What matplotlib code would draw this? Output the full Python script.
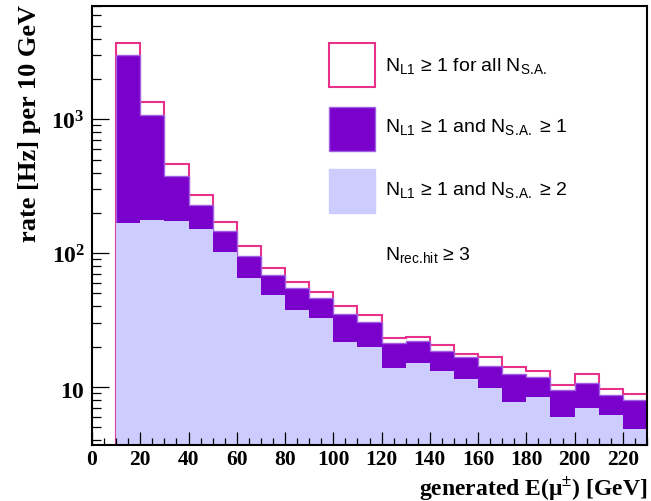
import numpy as np
import matplotlib
matplotlib.use("Agg")
import matplotlib.pyplot as plt
from matplotlib.patches import Rectangle
from matplotlib.ticker import MultipleLocator, LogLocator, FixedLocator, FixedFormatter, NullFormatter

## ## data (rate in Hz per 10 GeV bin)
bin_edges = np.arange(10, 240, 10)
rate_l1_all = [3710, 1333, 461, 272, 170, 113, 78, 61, 51, 40, 34.3,
               23.1, 23.7, 20.6, 17.6, 16.9, 14.2, 13.2, 10.4, 12.5, 9.7, 8.9]
rate_sa1 = [3040, 1077, 378, 228, 147, 95.5, 68.5, 55, 46, 35.2, 30.4,
            21.3, 22.2, 18.7, 16.7, 14.3, 12.5, 11.9, 9.6, 10.7, 8.7, 8.0]
rate_sa2 = [167, 178, 175, 151, 102, 64.7, 48.7, 37.6, 32.6, 21.9, 20.1,
            14.0, 15.2, 13.1, 11.5, 9.8, 7.7, 8.4, 6.0, 7.0, 6.2, 4.9]

legend_labels = [r"N$_{\mathrm{L1}}$ ≥ 1 for all N$_{\mathrm{S.\!A.}}$",
                 r"N$_{\mathrm{L1}}$ ≥ 1 and N$_{\mathrm{S.\!A.}}$ ≥ 1",
                 r"N$_{\mathrm{L1}}$ ≥ 1 and N$_{\mathrm{S.\!A.}}$ ≥ 2"]
cut_label = r"N$_{\mathrm{rec.\!hit}}$ ≥ 3"

## ## colours
pink = "#e8318a"
purple = "#7a00cc"
lavender = "#ccccff"

plt.rcParams["mathtext.fontset"] = "custom"
plt.rcParams["mathtext.rm"] = "Liberation Sans"
plt.rcParams["mathtext.it"] = "Liberation Sans:italic"
plt.rcParams["mathtext.bf"] = "Liberation Serif:bold"

fig = plt.figure(figsize=(6.51, 5.02), dpi=100)
ax = fig.add_axes([0.1413, 0.1116, 0.8526, 0.8745])

## ## histograms, outline first so the filled ones cover its lower part
ax.stairs(rate_l1_all, bin_edges, baseline=1, color=pink, linewidth=1.5)
ax.stairs(rate_sa1, bin_edges, baseline=1, fill=True, facecolor=purple,
          edgecolor="#a060e0", linewidth=1.0)
ax.stairs(rate_sa2, bin_edges, baseline=1, fill=True, color=lavender)

ax.set_yscale("log")
ax.set_xlim(0, 230)
ax.set_ylim(3.7, 7000)

## ## ticks, ROOT style: inside, only left and bottom
ax.xaxis.set_major_locator(MultipleLocator(20))
ax.xaxis.set_minor_locator(MultipleLocator(5))
ax.yaxis.set_major_locator(FixedLocator([10, 100, 1000]))
ax.yaxis.set_major_formatter(FixedFormatter([r"$\mathbf{10}$", r"$\mathbf{10^{2}}$", r"$\mathbf{10^{3}}$"]))
ax.yaxis.set_minor_locator(LogLocator(base=10, subs=np.arange(2, 10)))
ax.yaxis.set_minor_formatter(NullFormatter())
ax.tick_params(axis="x", which="major", direction="in", length=9.5, width=0.9)
ax.tick_params(axis="x", which="minor", direction="in", length=5, width=0.9)
ax.tick_params(axis="y", which="major", direction="in", length=12, width=0.9)
ax.tick_params(axis="y", which="minor", direction="in", length=6.5, width=0.9)
ax.tick_params(axis="x", labelsize=15.5, pad=3)
ax.tick_params(axis="y", labelsize=17, pad=5)
for lab in ax.get_xticklabels():
    lab.set_fontfamily("Liberation Serif")
    lab.set_fontweight("bold")
for sp in ax.spines.values():
    sp.set_linewidth(1.5)

ax.set_ylabel("rate [Hz] per 10 GeV", fontsize=19, fontweight="bold",
              family="Liberation Serif", loc="top")
ax.yaxis.set_label_coords(-0.092, 1.004)
ax.set_xlabel(r"generated E(μ$^{\pm}$) [GeV]", fontsize=17, fontweight="bold",
              family="Liberation Serif", loc="right")
ax.xaxis.label.set_va("baseline")
ax.xaxis.set_label_coords(1.0, -0.1125)

## ## hand-made legend box on the right
box_x, box_w, box_h = 0.427, 0.083, 0.100
ax.add_patch(Rectangle((box_x, 0.8155), box_w, box_h, transform=ax.transAxes,
                       facecolor="white", edgecolor=pink, linewidth=1.5))
ax.add_patch(Rectangle((box_x, 0.670), box_w, box_h, transform=ax.transAxes,
                       facecolor=purple, edgecolor="#a060e0", linewidth=1.0))
ax.add_patch(Rectangle((box_x, 0.528), box_w, box_h, transform=ax.transAxes,
                       facecolor=lavender, edgecolor=lavender, linewidth=1.0))
text_y = [0.855, 0.716, 0.572]
for lbl, ty in zip(legend_labels, text_y):
    ax.text(0.528, ty, lbl, transform=ax.transAxes, fontsize=14,
            family="Liberation Sans", va="baseline", ha="left")
ax.text(0.528, 0.424, cut_label, transform=ax.transAxes, fontsize=14,
        family="Liberation Sans", va="baseline", ha="left")

fig.savefig("out.png", dpi=100)
